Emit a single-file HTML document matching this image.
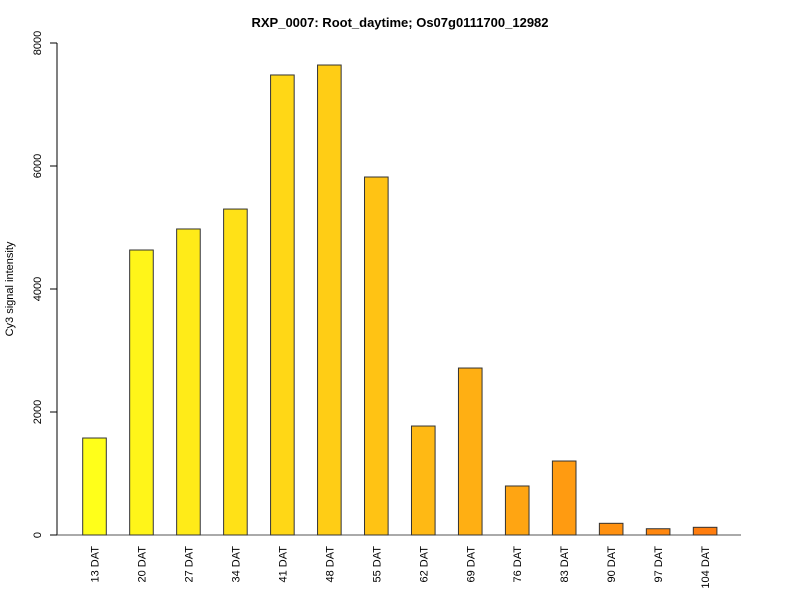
<!DOCTYPE html>
<html><head><meta charset="utf-8"><style>
body{margin:0;background:#fff}
svg{display:block;font-family:"Liberation Sans",Arial,sans-serif}
</style></head><body>
<svg id="chart" width="800" height="600">
<text x="400" y="27" text-anchor="middle" font-size="13" font-weight="bold">RXP_0007: Root_daytime; Os07g0111700_12982</text>
<text transform="translate(13,289) rotate(-90)" text-anchor="middle" font-size="11">Cy3 signal intensity</text>
<g id="yaxis"></g>
<g id="bars"></g>
<g id="xlabels"></g>
</svg>
<script>
const categories=["13 DAT","20 DAT","27 DAT","34 DAT","41 DAT","48 DAT","55 DAT","62 DAT","69 DAT","76 DAT","83 DAT","90 DAT","97 DAT","104 DAT"];
const values=[1577,4634,4976,5300,7480,7642,5821,1772,2715,797,1203,190,102,125];
const yTicks=[0,2000,4000,6000,8000];
const NS="http://www.w3.org/2000/svg";
const y0=535,yTop=43,yMax=8000;
function yScale(v){return y0-(v/yMax)*(y0-yTop);}
function xScale(i){return 82.7+i*46.97;}
const bw=23.6;
function colorFor(i){
  const t=i/(categories.length-1);
  const g=Math.round(255-t*(255-125));
  const b=Math.round(26-t*(26-14));
  return `rgb(255,${g},${b})`;
}
const ya=document.getElementById('yaxis');
let l=document.createElementNS(NS,'line');


l.setAttribute('x1',57);l.setAttribute('x2',57);l.setAttribute('y1',yScale(yTicks[yTicks.length-1]));l.setAttribute('y2',yScale(yTicks[0]));l.setAttribute('stroke','#000');
ya.appendChild(l);
yTicks.forEach(v=>{
  const tk=document.createElementNS(NS,'line');
  
  
  tk.setAttribute('x1',50);tk.setAttribute('x2',57);tk.setAttribute('y1',yScale(v));tk.setAttribute('y2',yScale(v));tk.setAttribute('stroke','#000');
  ya.appendChild(tk);
  const tx=document.createElementNS(NS,'text');
  
  
  tx.setAttribute('transform',`translate(41,${yScale(v)}) rotate(-90)`);
  tx.setAttribute('text-anchor','middle');tx.setAttribute('font-size','11');
  tx.textContent=v;ya.appendChild(tx);
});
const xl=document.createElementNS(NS,'line');


xl.setAttribute('x1',57);xl.setAttribute('x2',741);xl.setAttribute('y1',y0);xl.setAttribute('y2',y0);xl.setAttribute('stroke','#555');
ya.appendChild(xl);
const bg=document.getElementById('bars'),lg=document.getElementById('xlabels');
categories.forEach((c,i)=>{
  const r=document.createElementNS(NS,'rect');
  
  
  const y=yScale(values[i]);
  r.setAttribute('x',xScale(i));r.setAttribute('y',y);r.setAttribute('width',bw);r.setAttribute('height',y0-y);
  r.setAttribute('fill',colorFor(i));r.setAttribute('stroke','#333');r.setAttribute('stroke-width','1');
  bg.appendChild(r);
  const t=document.createElementNS(NS,'text');
  
  
  t.setAttribute('transform',`translate(${xScale(i)+bw/2+4},546) rotate(-90)`);
  t.setAttribute('text-anchor','end');t.setAttribute('font-size','11');
  t.textContent=c;lg.appendChild(t);
});
</script>
</body></html>
